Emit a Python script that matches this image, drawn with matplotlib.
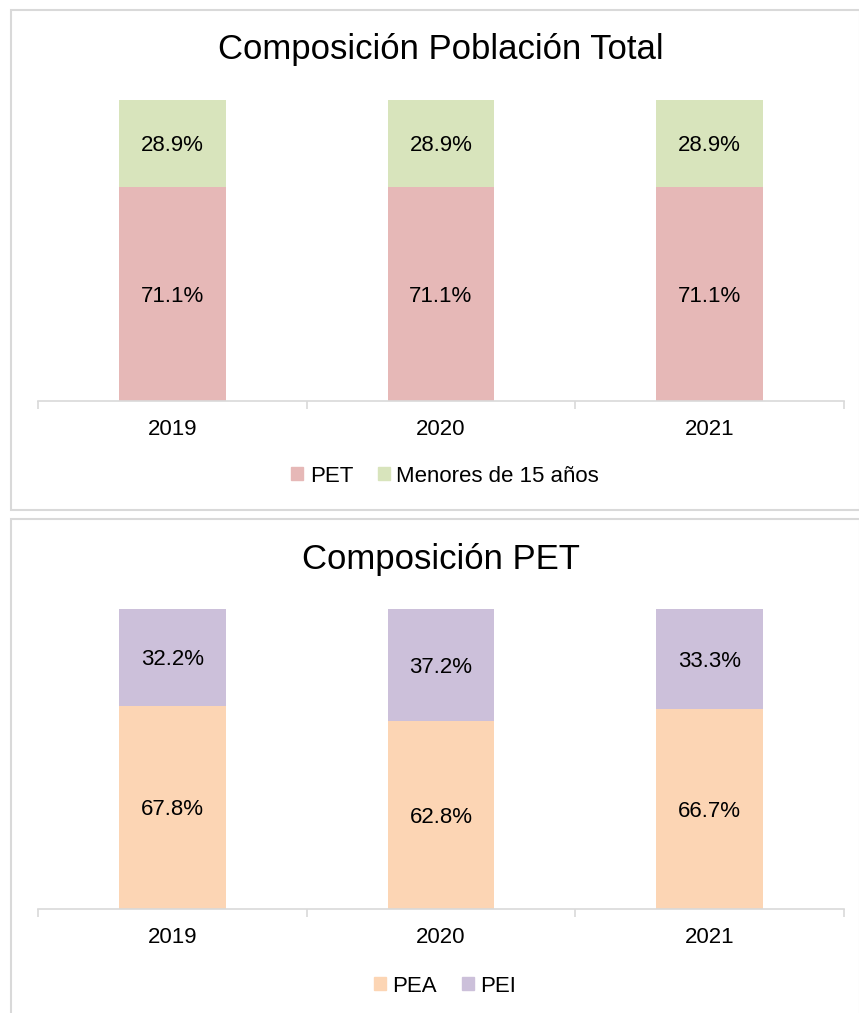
import matplotlib
matplotlib.use("Agg")
import matplotlib.pyplot as plt
from matplotlib.patches import Rectangle, Patch
import numpy as np

plt.rcParams['font.family'] = ['Liberation Sans', 'DejaVu Sans']

years = ["2019", "2020", "2021"]
pet = [71.1, 71.1, 71.1]
menores = [28.9, 28.9, 28.9]
pea = [67.8, 62.8, 66.7]
pei = [32.2, 37.2, 33.3]

title_top = "Composición Población Total"
title_bot = "Composición PET"

c_pet = "#E6B8B7"
c_men = "#D8E4BC"
c_pea = "#FCD5B4"
c_pei = "#CCC0DA"
grid_c = "#D9D9D9"

W, H = 859, 1013
fig = plt.figure(figsize=(W / 100, H / 100), dpi=100)

def fx(x):
    return x / W

def fy(y):
    return 1 - y / H

# panel borders
fig.patches.append(Rectangle((fx(11), fy(510)), fx(860 - 11), (510 - 10) / H,
                             transform=fig.transFigure, fill=False, edgecolor=grid_c, lw=1.5))
fig.patches.append(Rectangle((fx(11), fy(1020)), fx(860 - 11), (1020 - 519) / H,
                             transform=fig.transFigure, fill=False, edgecolor=grid_c, lw=1.5))

FS = 16

def panel(top, bottom, s1, s2, c1, c2, n1, n2, title, title_y, leg_y):
    ax = fig.add_axes([fx(38), fy(bottom), fx(844 - 38), (bottom - top) / H])
    x = np.arange(len(years))
    w = 0.398
    ax.bar(x, s1, w, color=c1, label=n1)
    ax.bar(x, s2, w, bottom=s1, color=c2, label=n2)
    for i in range(len(years)):
        ax.text(x[i], s1[i] / 2, f"{s1[i]:.1f}%", ha="center", va="center_baseline", fontsize=FS)
        ax.text(x[i], s1[i] + s2[i] / 2, f"{s2[i]:.1f}%", ha="center", va="center_baseline", fontsize=FS)
    ax.set_xlim(-0.5, len(years) - 0.5)
    ax.set_ylim(0, 100)
    for s in ["top", "left", "right"]:
        ax.spines[s].set_visible(False)
    ax.spines["bottom"].set_color(grid_c)
    ax.spines["bottom"].set_linewidth(1.2)
    ax.set_yticks([])
    ax.set_xticks(x)
    ax.set_xticklabels(years, fontsize=FS)
    ax.tick_params(axis="x", which="major", length=0, pad=13)
    ax.set_xticks(np.arange(-0.5, len(years)), minor=True)
    ax.tick_params(axis="x", which="minor", length=6, color=grid_c, width=1.2)
    fig.text(fx(441), fy(title_y), title, ha="center", va="center", fontsize=25)
    handles = [Patch(color=c1, label=n1), Patch(color=c2, label=n2)]
    fig.legend(handles=handles, loc="center", bbox_to_anchor=(fx(445), fy(leg_y)),
               ncol=2, frameon=False, fontsize=FS, handlelength=0.55, handleheight=0.55,
               handletextpad=0.3, columnspacing=1.1)
    return ax

panel(100, 401, pet, menores, c_pet, c_men, "PET", "Menores de 15 años", title_top, 49, 476)
panel(609, 909, pea, pei, c_pea, c_pei, "PEA", "PEI", title_bot, 559, 986)

fig.savefig("out.png", dpi=100)
